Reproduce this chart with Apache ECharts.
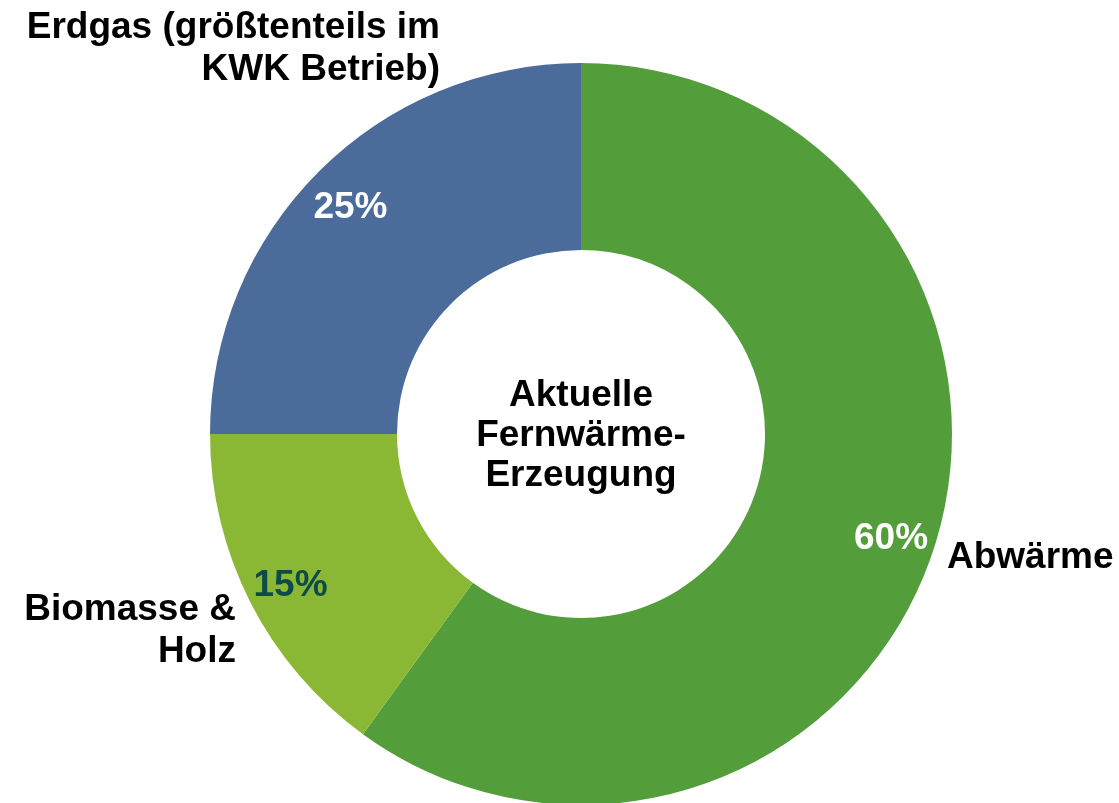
<!DOCTYPE html>
<html>
<head>
<meta charset="utf-8">
<script src="https://cdn.jsdelivr.net/npm/echarts@6/dist/echarts.min.js"></script>
<style>html,body{margin:0;padding:0;background:#fff;}#c{width:1119px;height:803px;}</style>
</head>
<body>
<div id="c"></div>
<script>
const categories = ['Abwärme', 'Biomasse &\nHolz', 'Erdgas (größtenteils im\nKWK Betrieb)'];
const values = [60, 15, 25];
const percentLabels = ['60%', '15%', '25%'];
const centerText = 'Aktuelle\nFernwärme-\nErzeugung';

const colors = ['#539E3B', '#8AB834', '#4B6B9A'];
const pctColors = ['#ffffff', '#0E4A4A', '#ffffff'];
const FONT = '"Liberation Sans", Arial, sans-serif';

// label placement (style/layout, not data)
const nameLayout = [
  { x: 947, y: 558, align: 'left' },
  { x: 236, y: 631, align: 'right' },
  { x: 440, y: 49, align: 'right' }
];

const chart = echarts.init(document.getElementById('c'), null, { renderer: 'canvas' });
const center = [581, 434];

chart.setOption({
  animation: false,
  backgroundColor: '#ffffff',
  graphic: [{
    type: 'text',
    x: center[0],
    y: center[1] + 2,
    style: {
      text: centerText,
      fontFamily: FONT,
      fontWeight: 'bold',
      fontSize: 37,
      lineHeight: 40,
      fill: '#000',
      align: 'center',
      verticalAlign: 'middle'
    }
  }],
  series: [
    {
      type: 'pie',
      center: center,
      radius: [184, 371],
      startAngle: 90,
      clockwise: true,
      silent: true,
      data: categories.map((c, i) => ({ name: c, value: values[i], itemStyle: { color: colors[i] } })),
      label: {
        show: true,
        position: 'outside',
        formatter: '{b}',
        fontFamily: FONT,
        fontWeight: 'bold',
        fontSize: 37,
        lineHeight: 42,
        color: '#000',
        overflow: 'none',
        width: 600
      },
      labelLine: { show: false },
      labelLayout: function (p) {
        const l = nameLayout[p.dataIndex];
        return { x: l.x, y: l.y, align: l.align, verticalAlign: 'middle', hideOverlap: false };
      }
    },
    {
      type: 'pie',
      center: center,
      radius: [296, 350],
      startAngle: 90,
      clockwise: true,
      silent: true,
      data: categories.map((c, i) => ({
        name: c, value: values[i],
        itemStyle: { color: 'rgba(0,0,0,0)' },
        label: { color: pctColors[i] }
      })),
      label: {
        show: true,
        position: 'inside',
        formatter: p => percentLabels[p.dataIndex],
        fontFamily: FONT,
        fontWeight: 'bold',
        fontSize: 37
      },
      labelLine: { show: false },
      labelLayout: { dy: 4 }
    }
  ]
});
</script>
</body>
</html>
